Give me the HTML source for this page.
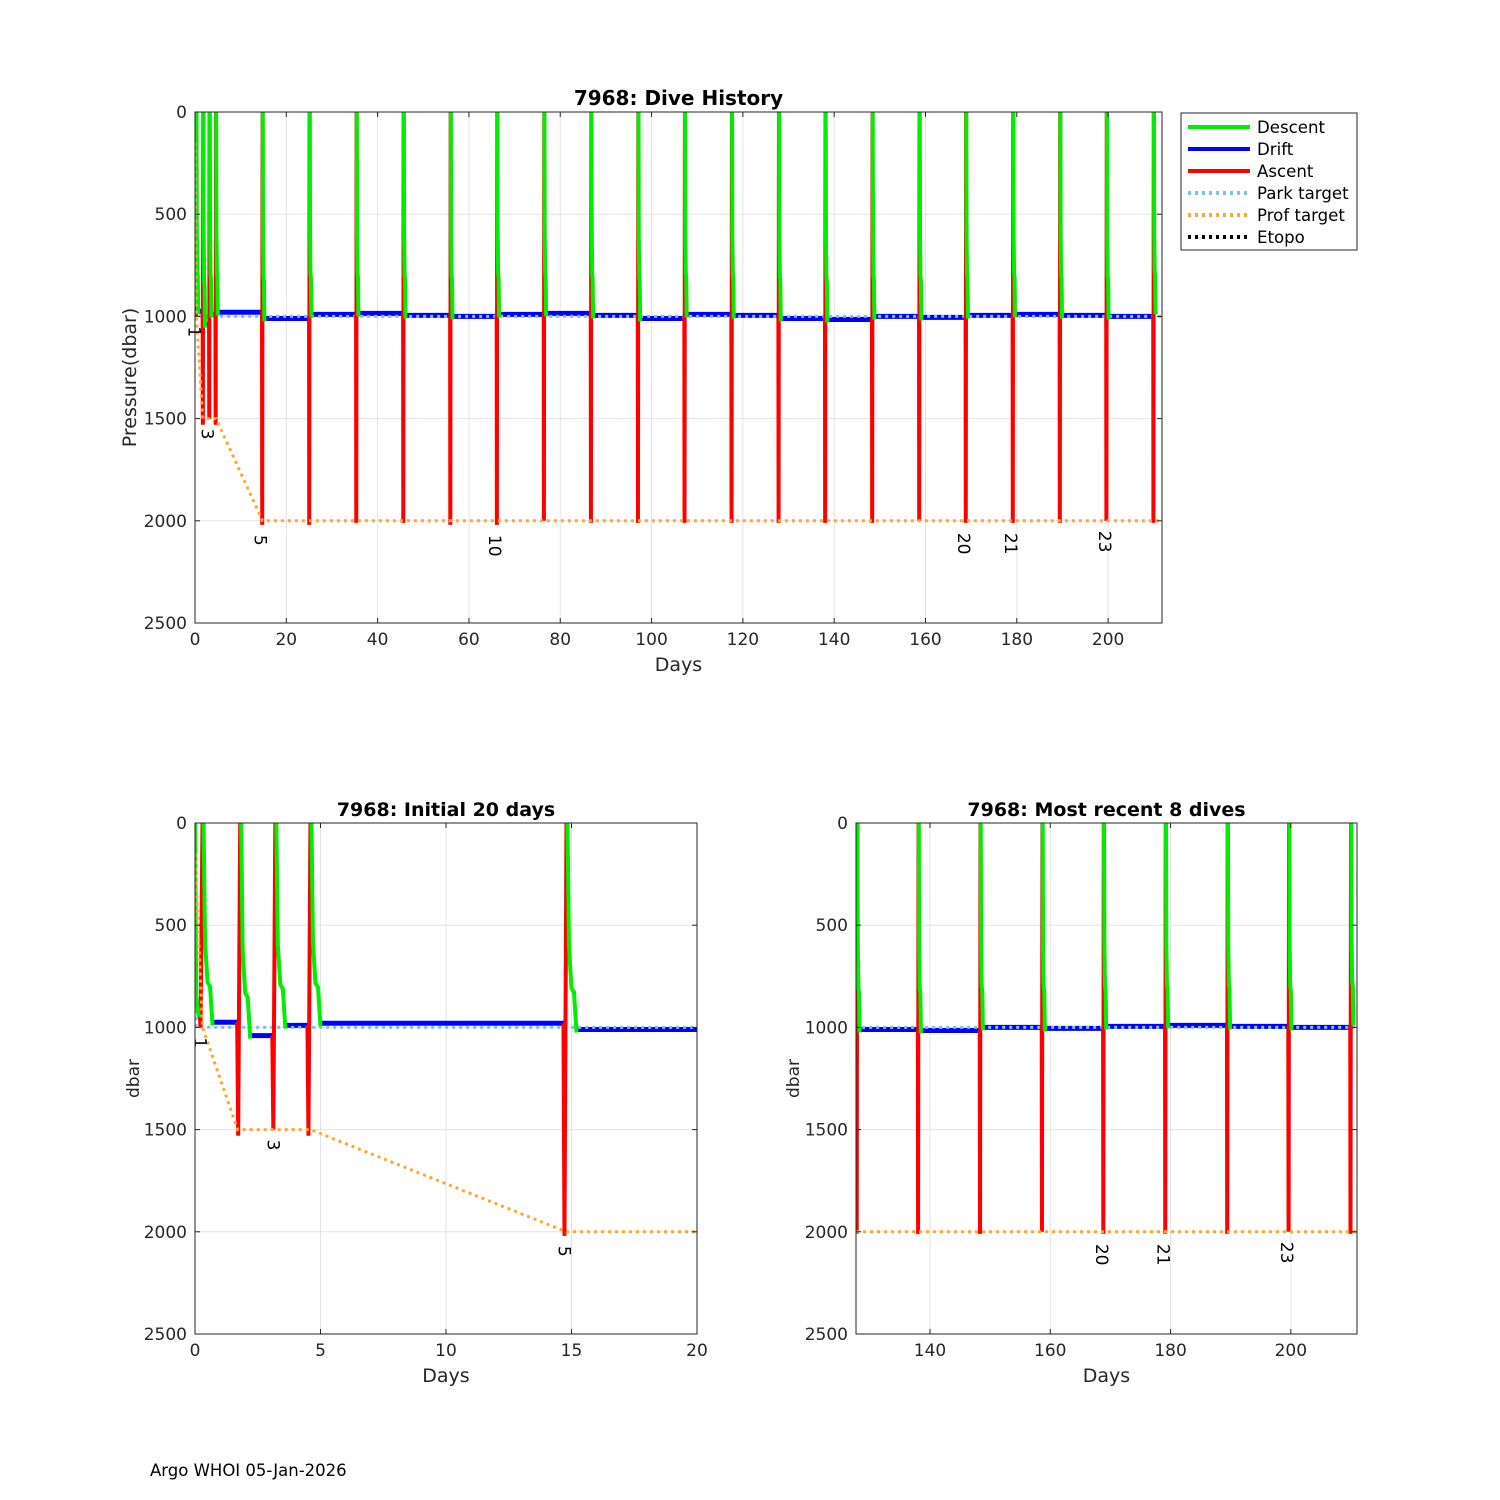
<!DOCTYPE html>
<html><head><meta charset="utf-8"><style>
body{margin:0;background:#fff;}
svg{display:block;font-family:"DejaVu Sans","Liberation Sans",sans-serif;}
</style></head><body>
<svg id="fig" width="1500" height="1500" viewBox="0 0 1500 1500"></svg>
<script>
// ---- data ----
const surfaceDays = [0.3,1.8,3.2,4.6,14.8,25.1,35.4,45.7,56.0,66.2,76.5,86.8,97.1,107.3,117.6,127.9,138.1,148.4,158.7,168.9,179.2,189.5,199.7,210.0];
const profDepths  = [1000,1530,1500,1530,2020,2020,2010,2010,2020,2020,2000,2010,2010,2010,2010,2010,2010,2010,2000,2010,2010,2010,2000,2010];
const driftDepths = [975,1040,990,980,1010,990,985,995,1000,990,985,995,1010,990,995,1010,1015,1000,1005,995,990,995,1000,975];
const profLabels  = [1,3,5,10,20,21,23];
const profTargetDays = [0,0.3,1.7,4.6,14.8,212];
const profTargetVals = [150,1000,1500,1500,2000,2000];
const parkTargetDays = [0,0.05,212];
const parkTargetVals = [300,1000,1000];
const yTicks=[0,500,1000,1500,2000,2500];

const NS="http://www.w3.org/2000/svg";
const svg=document.getElementById('fig');
function mk(tag,attrs,parent){const e=document.createElementNS(NS,tag);for(const k in attrs)e.setAttribute(k,attrs[k]);(parent||svg).appendChild(e);return e;}

function panel(id,x0,y0,w,h,xmin,xmax,xticks,title,tsize,ylabel,lw){
  const sx=d=>x0+(d-xmin)/(xmax-xmin)*w;
  const sy=p=>y0+p/2500*h;
  const g=mk('g',{});
  
  
  mk('rect',{x:x0,y:y0,width:w,height:h,fill:'#fff'},g);
  xticks.forEach(t=>{const l=mk('line',{x1:sx(t),x2:sx(t),y1:y0,y2:y0+h,stroke:'#e3e3e3','stroke-width':1},g);});
  yTicks.forEach(t=>{const l=mk('line',{x1:x0,x2:x0+w,y1:sy(t),y2:sy(t),stroke:'#e3e3e3','stroke-width':1},g);});
  const cp=mk('clipPath',{id:'clip-'+id},g);mk('rect',{x:x0,y:y0-3,width:w,height:h+3},cp);
  const dg=mk('g',{'clip-path':'url(#clip-'+id+')'},g);
  let green='',blue='',red='';
  for(let i=0;i<surfaceDays.length;i++){
    const s=surfaceDays[i];
    const prevDrift = i===0?900:driftDepths[i-1];
    red+=`M${sx(s-0.12)},${sy(prevDrift)}L${sx(s-0.08)},${sy(profDepths[i])}L${sx(s)},${sy(0)}`;
    const dd=driftDepths[i];
    green+=`M${sx(s+0.04)},${sy(0)}L${sx(s+0.1)},${sy(dd*0.6)}L${sx(s+0.2)},${sy(dd*0.8)}L${sx(s+0.3)},${sy(dd*0.82)}L${sx(s+0.4)},${sy(dd+15)}`;
    if(i<surfaceDays.length-1){
      const nxt=surfaceDays[i+1];
      blue+=`M${sx(s+0.4)},${sy(dd)}L${sx(nxt-0.12)},${sy(dd)}`;
    }
  }
  green=`M${sx(0)},${sy(0)}L${sx(0.05)},${sy(850)}L${sx(0.15)},${sy(950)}`+green;
  const pt=parkTargetDays.map((d,i)=>(i?'L':'M')+sx(d)+','+sy(parkTargetVals[i])).join('');
  const pf=profTargetDays.map((d,i)=>(i?'L':'M')+sx(d)+','+sy(profTargetVals[i])).join('');
  let p;
  p=mk('path',{d:blue,stroke:'#0000ff','stroke-width':lw+1,fill:'none'},dg);
  p=mk('path',{d:pt,stroke:'#7ec2dc','stroke-width':3,'stroke-dasharray':'3 4',fill:'none'},dg);
  p=mk('path',{d:red,stroke:'#ff0000','stroke-width':lw,fill:'none'},dg);
  p=mk('path',{d:green,stroke:'#00ee00','stroke-width':lw,fill:'none'},dg);
  p=mk('path',{d:pf,stroke:'#ffa733','stroke-width':3,'stroke-dasharray':'3 4',fill:'none'},dg);
  profLabels.forEach(n=>{
    const d=surfaceDays[n-1];
    if(d<xmin||d>xmax)return;
    const px=sx(d)-8, py=sy(profDepths[n-1])+10;
    const t=mk('text',{x:0,y:0,'font-size':17,fill:'#000',transform:`translate(${px},${py}) rotate(90)`},g);
    t.textContent=n;
    
    
  });
  mk('rect',{x:x0,y:y0,width:w,height:h,fill:'none',stroke:'#262626','stroke-width':1},g);
  xticks.forEach(t=>{mk('line',{x1:sx(t),x2:sx(t),y1:y0+h,y2:y0+h-5,stroke:'#262626'},g);mk('line',{x1:sx(t),x2:sx(t),y1:y0,y2:y0+5,stroke:'#262626'},g);
    const tx=mk('text',{x:sx(t),y:y0+h+22,'font-size':17,'text-anchor':'middle',fill:'#262626'},g);tx.textContent=t;});
  yTicks.forEach(t=>{mk('line',{x1:x0,x2:x0+5,y1:sy(t),y2:sy(t),stroke:'#262626'},g);mk('line',{x1:x0+w,x2:x0+w-5,y1:sy(t),y2:sy(t),stroke:'#262626'},g);
    const tx=mk('text',{x:x0-8,y:sy(t)+6,'font-size':17,'text-anchor':'end',fill:'#262626'},g);tx.textContent=t;});
  const tt=mk('text',{x:x0+w/2,y:y0-7,'font-size':tsize,'font-weight':'bold','text-anchor':'middle',fill:'#000'},g);tt.textContent=title;
  const xl=mk('text',{x:x0+w/2,y:y0+h+48,'font-size':19,'text-anchor':'middle',fill:'#262626'},g);xl.textContent='Days';
  const yl=mk('text',{x:0,y:0,'font-size':ylabel.len,'text-anchor':'middle',fill:'#262626',transform:`translate(${ylabel.x},${y0+h/2-(ylabel.dy||0)}) rotate(-90)`},g);yl.textContent=ylabel.t;
}
panel('top',195,112,967,511,0,211.8,[0,20,40,60,80,100,120,140,160,180,200],'7968: Dive History',20,{t:'Pressure(dbar)',x:136,len:19,dy:-10},4);
panel('initial',195,823,502,511,0,20,[0,5,10,15,20],'7968: Initial 20 days',19,{t:'dbar',x:139,len:17},4);
panel('recent',856,823,501,511,127.7,211.0,[140,160,180,200],'7968: Most recent 8 dives',19,{t:'dbar',x:799,len:17},4);

const lg=mk('g',{});


mk('rect',{x:1181,y:113,width:176,height:137,fill:'#fff',stroke:'#262626'},lg);
const items=[['Descent','#00ee00',''],['Drift','#0000ff',''],['Ascent','#ff0000',''],['Park target','#7ec2dc','3 4'],['Prof target','#ffa733','3 4'],['Etopo','#000','3 4']];
items.forEach((it,i)=>{const y=127+i*22;
  const e=mk('g',{},lg);
  
  
  const a={x1:1188,x2:1250,y1:y,y2:y,stroke:it[1],'stroke-width':4};if(it[2])a['stroke-dasharray']=it[2];mk('line',a,e);
  const t=mk('text',{x:1257,y:y+6,'font-size':16.6,fill:'#000'},e);t.textContent=it[0];});
const ft=mk('text',{x:150,y:1476,'font-size':16.5,fill:'#000'});
ft.textContent='Argo WHOI 05-Jan-2026';


</script>
</body></html>
